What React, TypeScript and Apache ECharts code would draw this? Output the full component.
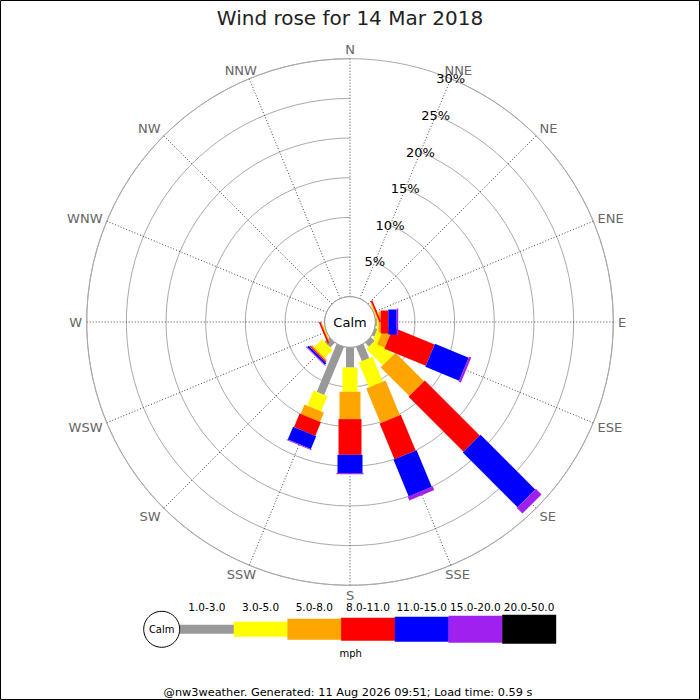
import React, { useEffect, useRef } from 'react';
import * as echarts from 'echarts';

// ---- data (percent of time, by direction, per speed class) ----
const directions = ['N', 'NNE', 'NE', 'ENE', 'E', 'ESE', 'SE', 'SSE', 'S', 'SSW', 'SW', 'WSW', 'W', 'WNW', 'NW', 'NNW'];
const speedClasses = ['1.0-3.0', '3.0-5.0', '5.0-8.0', '8.0-11.0', '11.0-15.0', '15.0-20.0', '20.0-50.0'];
const speed1to3 = [0, 0, 0, 0.05, 0.2, 0.35, 0.7, 1.95, 2.55, 6.55, 0.85, 0.05, 0, 0, 0, 0];
const speed3to5 = [0, 0, 0, 0.1, 0.2, 0.7, 2.9, 3.4, 3.05, 2.05, 1.4, 0.1, 0, 0, 0, 0];
const speed5to8 = [0, 0, 0, 0.1, 0.28, 1.05, 5.1, 4.7, 3.45, 1.3, 0.2, 0.1, 0, 0, 0, 0];
const speed8to11 = [0, 0, 0, 0.2, 0.96, 5.65, 9.8, 4.9, 4.5, 1.85, 0.15, 0.2, 0, 0, 0, 0];
const speed11to15 = [0, 0, 0, 0, 1.05, 4.6, 9.75, 5.0, 2.3, 1.75, 0.25, 0, 0, 0, 0, 0];
const speed15to20 = [0, 0, 0, 0, 0.2, 0.3, 1.0, 0.5, 0.15, 0.12, 0.1, 0, 0, 0, 0, 0];
const speed20to50 = [0, 0, 0, 0, 0, 0, 0, 0, 0, 0, 0, 0, 0, 0, 0, 0];
const radialTicks = [5, 10, 15, 20, 25, 30];
const radialMax = 30;
const titleText = 'Wind rose for 14 Mar 2018';
const unitText = 'mph';
const calmText = 'Calm';
const footerText = '@nw3weather. Generated: 11 Aug 2026 09:51; Load time: 0.59 s';

// ---- styles ----
const classColors = ['#999999', '#ffff00', '#ffa500', '#ff0000', '#0000ff', '#a020f0', '#000000'];
const roseWidths = [8, 15, 21, 23, 25, 27, 29];
const legendHeights = [9, 15, 21, 23, 25, 27, 29];
const FONT = 'DejaVu Sans';

let measureCtx: CanvasRenderingContext2D | null = null;
function textWidth(text: string, size: number): number {
  if (!measureCtx) {
    const c = document.createElement('canvas');
    measureCtx = c.getContext('2d');
  }
  if (!measureCtx) return text.length * size * 0.65;
  measureCtx.font = `${size}px "${FONT}"`;
  return measureCtx.measureText(text).width;
}

const App: React.FC = () => {
  const ref = useRef<HTMLDivElement>(null);

  useEffect(() => {
    if (!ref.current) return;
    const chart = echarts.init(ref.current, undefined, { renderer: 'svg' });

    const classValues = [speed1to3, speed3to5, speed5to8, speed8to11, speed11to15, speed15to20, speed20to50];
    // axis order starts at NNE (startAngle 67.5)
    const axisOrder = [...directions.slice(1), directions[0]];

    const cum = directions.map(() => 0);
    const barSeries = classValues.map((vals, k) => {
      const data: any[] = [];
      vals.forEach((v, i) => {
        const s = cum[i];
        const e = s + v;
        cum[i] = e;
        if (v > 0) data.push([e, directions[i], s]);
      });
      const w = roseWidths[k];
      const color = classColors[k];
      return {
        type: 'custom',
        name: speedClasses[k],
        coordinateSystem: 'polar',
        encode: { radius: 0, angle: 1 },
        data,
        z: 5,
        silent: true,
        renderItem: (params: any, api: any) => {
          const end = api.value(0);
          const dir = api.value(1);
          const start = api.value(2);
          const cs = params.coordSys;
          const p0 = api.coord([start, dir]);
          const p1 = api.coord([end, dir]);
          let ux = p1[0] - cs.cx;
          let uy = p1[1] - cs.cy;
          const len = Math.hypot(ux, uy) || 1;
          ux /= len;
          uy /= len;
          const h = w / 2;
          const nx = -uy * h;
          const ny = ux * h;
          return {
            type: 'polygon',
            shape: {
              points: [
                [p0[0] + nx, p0[1] + ny],
                [p1[0] + nx, p1[1] + ny],
                [p1[0] - nx, p1[1] - ny],
                [p0[0] - nx, p0[1] - ny],
              ],
            },
            style: { fill: color },
          };
        },
      };
    });

    // percent labels along the NNE spoke
    const radialLabelSeries = {
      type: 'custom',
      coordinateSystem: 'polar',
      encode: { radius: 0, angle: 1 },
      data: radialTicks.map((v) => [v, 'NNE']),
      z: 20,
      silent: true,
      renderItem: (params: any, api: any) => {
        const p = api.coord([api.value(0), api.value(1)]);
        return {
          type: 'text',
          x: p[0],
          y: p[1],
          style: {
            text: api.value(0) + '%',
            fill: '#000',
            fontSize: 13,
            fontFamily: FONT,
            align: 'center',
            verticalAlign: 'middle',
          },
        };
      },
    };

    // compass labels just outside the outer ring
    const dirLabelSeries = {
      type: 'custom',
      coordinateSystem: 'polar',
      encode: { radius: 0, angle: 1 },
      data: directions.map((d) => [radialMax, d]),
      z: 20,
      silent: true,
      renderItem: (params: any, api: any) => {
        const idx = api.value(1);
        const name = axisOrder[idx];
        const cs = params.coordSys;
        const p = api.coord([api.value(0), idx]);
        let ux = p[0] - cs.cx;
        let uy = p[1] - cs.cy;
        const len = Math.hypot(ux, uy) || 1;
        ux /= len;
        uy /= len;
        const gap = 4.6;
        const ax = p[0] + ux * gap;
        const ay = p[1] + uy * gap;
        const m = Math.max(Math.abs(ux), Math.abs(uy));
        const a = textWidth(name, 13) / 2;
        const b = 4.75;
        return {
          type: 'text',
          x: ax + (a * ux) / m,
          y: ay + (b * uy) / m + 0.6,
          style: {
            text: name,
            fill: '#666',
            fontSize: 13,
            fontFamily: FONT,
            align: 'center',
            verticalAlign: 'middle',
          },
        };
      },
    };

    // legend graphics
    const legendX0 = 180;
    const segW = 53.7;
    const legendY = 629.3;
    const legend: any[] = [];
    speedClasses.forEach((lab, k) => {
      const x = legendX0 + k * segW;
      const hgt = legendHeights[k];
      legend.push({
        type: 'rect',
        z: 100,
        shape: { x, y: legendY - hgt / 2, width: segW + 0.3, height: hgt },
        style: { fill: classColors[k] },
      });
      legend.push({
        type: 'text',
        z: 100,
        x: x + segW / 2,
        y: 607,
        style: { text: lab, fill: '#000', fontSize: 10.5, fontFamily: FONT, align: 'center', verticalAlign: 'middle' },
      });
    });

    chart.setOption({
      animation: false,
      backgroundColor: '#ffffff',
      title: {
        text: titleText,
        left: 'center',
        top: 3,
        textStyle: { fontSize: 20, fontWeight: 'normal', color: '#222', fontFamily: FONT },
      },
      polar: { center: [350, 322], radius: [25.3, 263.3] },
      angleAxis: {
        type: 'category',
        data: axisOrder,
        startAngle: 67.5,
        clockwise: true,
        boundaryGap: false,
        axisTick: { show: false },
        axisLine: { show: true, lineStyle: { color: '#aaaaaa', width: 1 } },
        axisLabel: { show: false },
        splitLine: { show: true, lineStyle: { color: '#444', width: 1, type: [1, 2] } },
      },
      radiusAxis: {
        type: 'value',
        min: 0,
        max: radialMax,
        interval: 5,
        axisLine: { show: false },
        axisTick: { show: false },
        axisLabel: { show: false },
        splitLine: { show: true, lineStyle: { color: '#aaaaaa', width: 1, type: 'solid' } },
      },
      series: [...barSeries, radialLabelSeries, dirLabelSeries],
      graphic: [
        {
          type: 'rect',
          z: 100,
          shape: { x: 0.5, y: 0.5, width: 699, height: 699 },
          style: { fill: 'none', stroke: '#000', lineWidth: 1 },
        },
        {
          type: 'circle',
          z: 100,
          shape: { cx: 350, cy: 322, r: 25.3 },
          style: { fill: '#fff', stroke: '#999', lineWidth: 1 },
        },
        {
          type: 'text',
          z: 101,
          x: 350,
          y: 322,
          style: { text: calmText, fill: '#000', fontSize: 13, fontFamily: FONT, align: 'center', verticalAlign: 'middle' },
        },
        {
          type: 'circle',
          z: 101,
          shape: { cx: 161.7, cy: legendY, r: 18 },
          style: { fill: '#fff', stroke: '#000', lineWidth: 1 },
        },
        {
          type: 'text',
          z: 102,
          x: 161.7,
          y: legendY,
          style: { text: calmText, fill: '#000', fontSize: 10, fontFamily: FONT, align: 'center', verticalAlign: 'middle' },
        },
        ...legend,
        {
          type: 'text',
          z: 100,
          x: 350.7,
          y: 653.5,
          style: { text: unitText, fill: '#000', fontSize: 10, fontFamily: FONT, align: 'center', verticalAlign: 'middle' },
        },
        {
          type: 'text',
          z: 100,
          x: 348,
          y: 692,
          style: { text: footerText, fill: '#000', fontSize: 11.3, fontFamily: FONT, align: 'center', verticalAlign: 'middle' },
        },
      ],
    });

    return () => chart.dispose();
  }, []);

  return (
    <div
      ref={ref}
      style={{ position: 'fixed', left: 0, top: 0, width: 700, height: 700, background: '#fff' }}
    />
  );
};

export default App;
